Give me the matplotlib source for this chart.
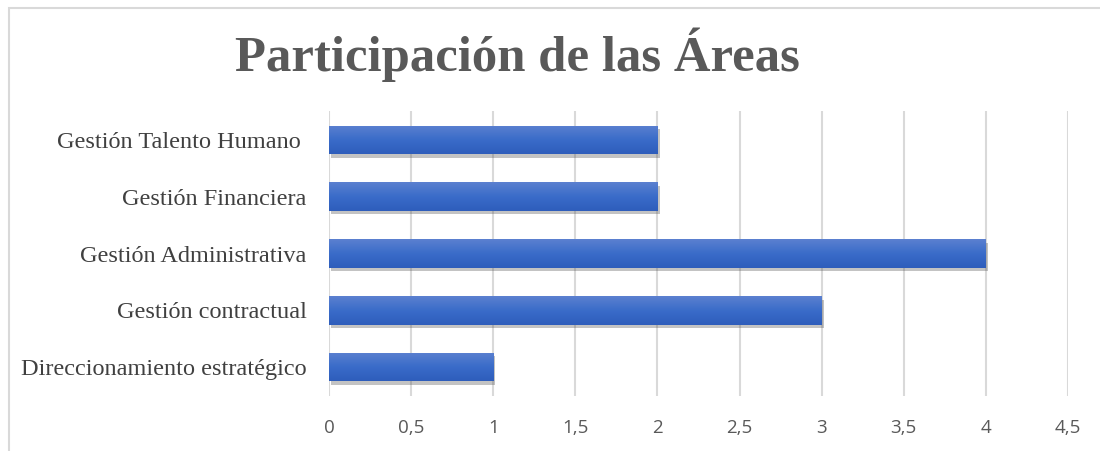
import numpy as np
import matplotlib
matplotlib.use("Agg")
import matplotlib.pyplot as plt
import matplotlib.patheffects as pe
from matplotlib.patches import Rectangle

# data
areas = ["Direccionamiento estratégico", "Gestión contractual", "Gestión Administrativa",
         "Gestión Financiera", "Gestión Talento Humano "]
valores = [1, 3, 4, 2, 2]
ticks = [0, 0.5, 1, 1.5, 2, 2.5, 3, 3.5, 4, 4.5]
tick_labels = ["0", "0,5", "1", "1,5", "2", "2,5", "3", "3,5", "4", "4,5"]

fig = plt.figure(figsize=(11, 4.51), dpi=100)
ax = fig.add_axes([0.2991, 0.123, 0.6718, 0.6298])

# chart border
fig.patches.append(Rectangle((9 / 1100, -0.05), 1.2, 0.05 + 1 - 8 / 451, transform=fig.transFigure,
                             fill=False, edgecolor="#d9d9d9", linewidth=1.5))

y = np.arange(len(areas))
bars = ax.barh(y, valores, height=0.5, color="#4472c4", zorder=3,
               path_effects=[pe.SimplePatchShadow(offset=(1.5, -2.5), shadow_rgbFace="#555555", alpha=0.35),
                             pe.Normal()])

# gradient fill on each bar
grad = np.linspace(0, 1, 100).reshape(-1, 1)
cmap = matplotlib.colors.LinearSegmentedColormap.from_list("g", ["#2e5dbb", "#3a6cc9", "#5b80d0"])
for b in bars:
    x0, y0 = b.get_x(), b.get_y()
    im = ax.imshow(grad, extent=[x0, x0 + b.get_width(), y0, y0 + b.get_height()],
                   origin="lower", aspect="auto", cmap=cmap, zorder=4)
    im.set_clip_path(b)

ax.set_xlim(0, 4.5)
ax.set_ylim(-0.5, len(areas) - 0.5)
ax.set_xticks(ticks)
ax.set_xticklabels(tick_labels, fontfamily="Open Sans", fontsize=13.5, color="#595959")
ax.set_yticks(y)
ax.set_yticklabels(areas, fontfamily="Liberation Serif", fontsize=17.5, color="#404040")
ax.tick_params(axis="x", length=0, pad=17)
ax.tick_params(axis="y", length=0, pad=16)
ax.grid(axis="x", color="#d9d9d9", linewidth=1.5, zorder=0)
for s in ax.spines.values():
    s.set_visible(False)

fig.text(0.4705, 0.878, "Participación de las Áreas", ha="center", va="center",
         fontfamily="Liberation Serif", fontweight="bold", fontsize=36.5, color="#595959")

fig.savefig("out.png", dpi=100)
